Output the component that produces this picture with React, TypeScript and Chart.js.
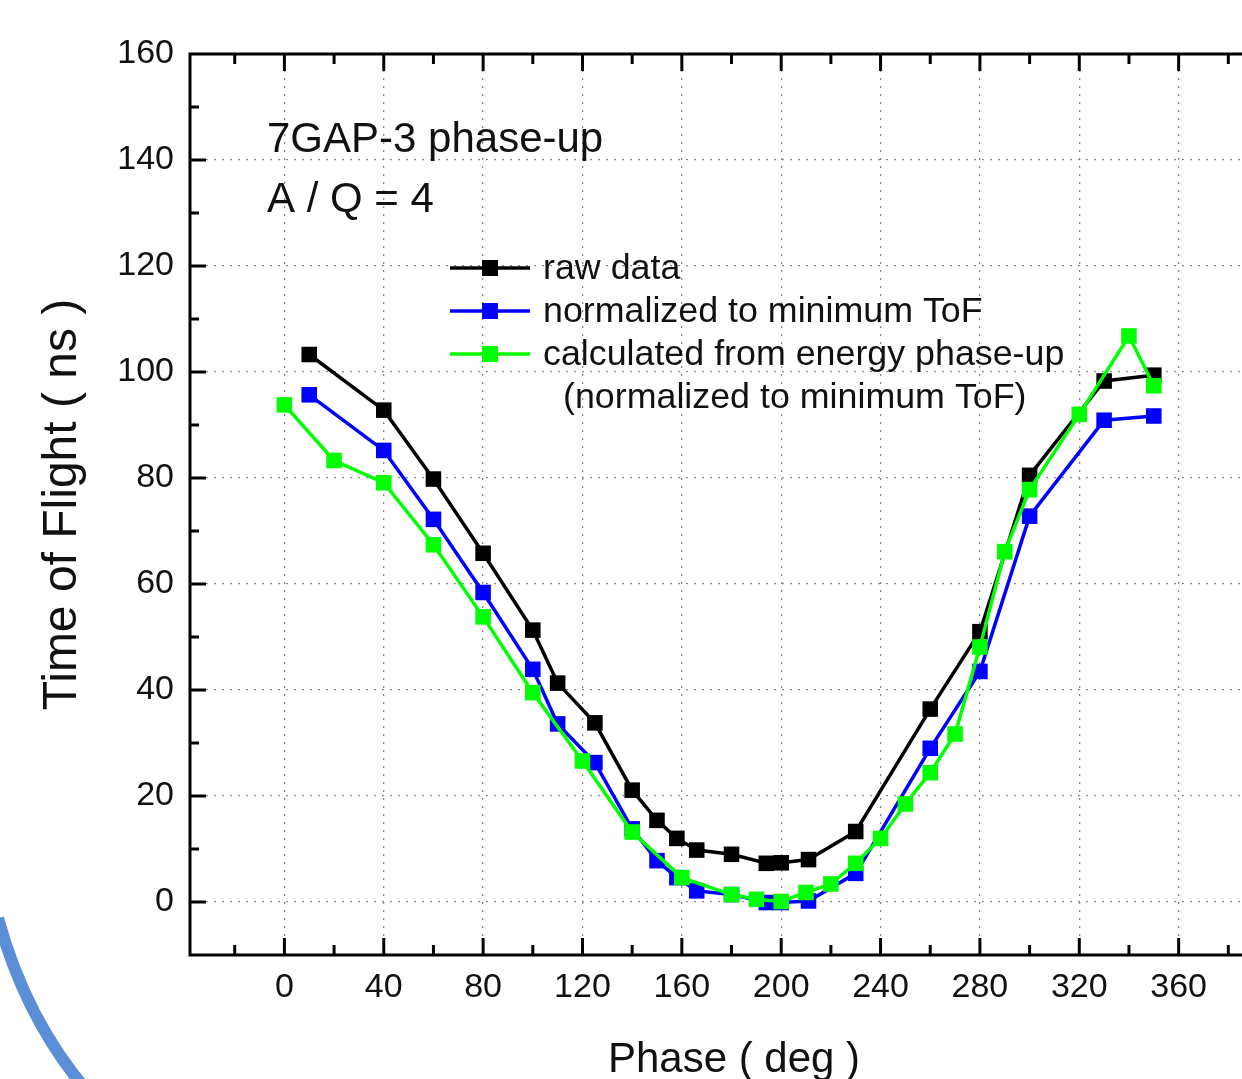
import React, { useEffect, useRef } from 'react';
import { Chart, registerables } from 'chart.js';

Chart.register(...registerables);

// ---------- data ----------
const rawPhase = [10, 40, 60, 80, 100, 110, 125, 140, 150, 158, 166, 180, 194, 200, 211, 230, 260, 280, 300, 330, 350];
const rawTof = [103.3, 92.8, 79.8, 65.8, 51.3, 41.3, 33.8, 21.1, 15.4, 12.0, 9.8, 9.0, 7.3, 7.4, 8.0, 13.3, 36.4, 51.0, 80.5, 98.3, 99.4];
const normPhase = [10, 40, 60, 80, 100, 110, 125, 140, 150, 158, 166, 180, 194, 200, 211, 230, 260, 280, 300, 330, 350];
const normTof = [95.7, 85.2, 72.2, 58.4, 43.9, 33.6, 26.3, 13.8, 7.8, 4.6, 2.1, 1.4, -0.1, -0.1, 0.2, 5.4, 29.0, 43.5, 72.8, 90.9, 91.7];
const calcPhase = [0, 20, 40, 60, 80, 100, 120, 140, 160, 180, 190, 200, 210, 220, 230, 240, 250, 260, 270, 280, 290, 300, 320, 340, 350];
const calcTof = [93.8, 83.3, 79.1, 67.4, 53.8, 39.5, 26.6, 13.2, 4.6, 1.4, 0.5, 0.1, 1.8, 3.4, 7.3, 12.0, 18.5, 24.4, 31.7, 48.1, 66.1, 77.8, 92.0, 106.8, 97.4];

const xTickValues = [0, 40, 80, 120, 160, 200, 240, 280, 320, 360];
const yTickValues = [0, 20, 40, 60, 80, 100, 120, 140, 160];

const seriesLabels = ['raw data', 'normalized to minimum ToF', 'calculated from energy phase-up'];
const legendExtraLine = '(normalized to minimum ToF)';
const annotationLines = ['7GAP-3 phase-up', 'A / Q = 4'];
const xTitle = 'Phase ( deg )';
const yTitle = 'Time of Flight ( ns )';

// ---------- layout / style ----------
const X_MIN = -38;
const X_MAX = 400;
const Y_MIN = -10;
const Y_MAX = 160;
const CANVAS_W = 1290;
const CANVAS_H = 1100;
const AREA_TOP = 54;
const AREA_BOTTOM = 955;
const AREA_LEFT = 190;
const FONT = '"Liberation Sans", Arial, Helvetica, sans-serif';
const COLORS = ['#000000', '#0000ff', '#00ff00'];

const toPoints = (xs: number[], ys: number[]) => xs.map((x, i) => ({ x, y: ys[i] }));

const decorPlugin = {
  id: 'decor',
  afterDraw(chart: any) {
    const { ctx, chartArea: ca, scales } = chart;
    const xs = scales.x;
    const ys = scales.y;
    ctx.save();

    // frame
    ctx.strokeStyle = '#000';
    ctx.lineWidth = 3;
    ctx.strokeRect(ca.left, ca.top, ca.right - ca.left, ca.bottom - ca.top);

    const line = (x1: number, y1: number, x2: number, y2: number) => {
      ctx.beginPath();
      ctx.moveTo(x1, y1);
      ctx.lineTo(x2, y2);
      ctx.stroke();
    };

    // inward ticks
    ctx.lineWidth = 3;
    for (let v = -20; v <= X_MAX; v += 20) {
      const px = xs.getPixelForValue(v);
      if (px <= ca.left + 2 || px >= ca.right - 2) continue;
      const len = v % 40 === 0 ? 17 : 10;
      line(px, ca.bottom, px, ca.bottom - len);
      line(px, ca.top, px, ca.top + len);
    }
    for (let v = 0; v < Y_MAX; v += 10) {
      const py = ys.getPixelForValue(v);
      const len = v % 20 === 0 ? 16 : 9;
      line(ca.left, py, ca.left + len, py);
      line(ca.right, py, ca.right - len, py);
    }

    // annotation
    ctx.fillStyle = '#111';
    ctx.textAlign = 'left';
    ctx.textBaseline = 'alphabetic';
    ctx.font = `42px ${FONT}`;
    ctx.fillText(annotationLines[0], 267, 152);
    ctx.fillText(annotationLines[1], 267, 212);

    // legend
    const rowY = [268, 311, 354];
    ctx.font = `35.8px ${FONT}`;
    seriesLabels.forEach((label, i) => {
      const y = rowY[i];
      ctx.strokeStyle = COLORS[i];
      ctx.lineWidth = 3.5;
      line(450, y, 530, y);
      ctx.fillStyle = COLORS[i];
      ctx.fillRect(490 - 8, y - 8, 16, 16);
      ctx.fillStyle = '#111';
      ctx.fillText(label, 543, y + 11);
    });
    ctx.fillText(legendExtraLine, 563, 397 + 11);

    // slide decoration arc (bottom-left)
    ctx.strokeStyle = '#5a8fd8';
    ctx.lineWidth = 12;
    ctx.beginPath();
    ctx.moveTo(-2, 918);
    ctx.quadraticCurveTo(26, 1020, 88, 1092);
    ctx.stroke();

    ctx.restore();
  },
};

export default function App() {
  const canvasRef = useRef<HTMLCanvasElement | null>(null);

  useEffect(() => {
    const canvas = canvasRef.current;
    if (!canvas) return;
    Chart.defaults.font.family = FONT;
    Chart.defaults.color = '#111';

    const mkSet = (label: string, pts: any[], i: number, order: number) => ({
      label,
      data: pts,
      borderColor: COLORS[i],
      backgroundColor: COLORS[i],
      borderWidth: 3.5,
      pointStyle: 'rect',
      pointRadius: 11,
      pointBorderWidth: 0,
      pointBackgroundColor: COLORS[i],
      tension: 0,
      order,
    });

    const chart = new Chart(canvas, {
      type: 'line',
      data: {
        datasets: [
          mkSet(seriesLabels[0], toPoints(rawPhase, rawTof), 0, 3),
          mkSet(seriesLabels[1], toPoints(normPhase, normTof), 1, 2),
          mkSet(seriesLabels[2], toPoints(calcPhase, calcTof), 2, 1),
        ] as any,
      },
      options: {
        animation: false,
        responsive: false,
        devicePixelRatio: 1,
        layout: { padding: { top: AREA_TOP, right: 12, bottom: 0, left: 0 } },
        plugins: {
          legend: { display: false },
          tooltip: { enabled: false },
        },
        scales: {
          x: {
            type: 'linear',
            min: X_MIN,
            max: X_MAX,
            afterBuildTicks: (s: any) => {
              s.ticks = xTickValues.map((v) => ({ value: v }));
            },
            afterFit: (s: any) => {
              s.height = CANVAS_H - AREA_BOTTOM;
            },
            ticks: {
              font: { size: 34 },
              color: '#111',
              padding: 12,
              maxRotation: 0,
              autoSkip: false,
            },
            grid: { color: '#8a8a8a', lineWidth: 1.3, drawTicks: false },
            border: { display: false, dash: [2, 6] },
            title: {
              display: true,
              text: xTitle,
              font: { size: 42 },
              color: '#111',
              padding: { top: 0, bottom: 14 },
            },
          },
          y: {
            type: 'linear',
            min: Y_MIN,
            max: Y_MAX,
            afterBuildTicks: (s: any) => {
              s.ticks = yTickValues.map((v) => ({ value: v }));
            },
            afterFit: (s: any) => {
              s.width = AREA_LEFT;
            },
            ticks: {
              font: { size: 34 },
              color: '#111',
              padding: 16,
              autoSkip: false,
            },
            grid: { color: '#8a8a8a', lineWidth: 1.3, drawTicks: false },
            border: { display: false, dash: [2, 6] },
            title: {
              display: true,
              text: yTitle,
              font: { size: 48 },
              color: '#111',
              padding: { top: 34, bottom: 0 },
            },
          },
        },
      },
      plugins: [decorPlugin],
    });

    return () => chart.destroy();
  }, []);

  return (
    <div
      style={{
        position: 'fixed',
        left: 0,
        top: 0,
        width: 1242,
        height: 1079,
        overflow: 'hidden',
        background: '#fff',
      }}
    >
      <canvas
        ref={canvasRef}
        width={CANVAS_W}
        height={CANVAS_H}
        style={{ display: 'block', width: CANVAS_W, height: CANVAS_H }}
      />
    </div>
  );
}
